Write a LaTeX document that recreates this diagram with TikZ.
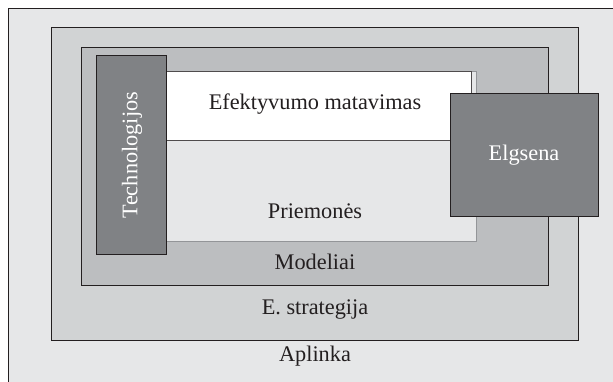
\documentclass[tikz,border=0pt]{standalone}
\usepackage{fontspec}
\setmainfont{Liberation Serif}
\definecolor{lineK}{HTML}{231F20}
\definecolor{envG}{HTML}{E6E7E8}
\definecolor{strG}{HTML}{D1D3D4}
\definecolor{modG}{HTML}{BCBEC0}
\definecolor{darkG}{HTML}{808285}
\definecolor{edgeG}{HTML}{939598}
\tikzset{
  frame/.style={draw=lineK, line width=0.9pt},
  lbl/.style={font=\fontsize{22.3}{25}\selectfont, text=lineK, inner sep=0pt},
  wlbl/.style={font=\fontsize{22.3}{25}\selectfont, text=white, inner sep=0pt}
}
\begin{document}
\begin{tikzpicture}[x=1pt,y=-1pt]
\useasboundingbox (0,0) rectangle (613,381);
\clip (0,0) rectangle (613,381);
\fill[white] (0,0) rectangle (613,381);
% environment
\draw[frame, fill=envG] (8,8) rectangle (630,400);
% strategy
\draw[frame, fill=strG] (51,27) rectangle (578,340);
% models
\draw[frame, fill=modG] (81,47) rectangle (548,285);
% means
\draw[draw=edgeG, line width=0.8pt, fill=envG] (166,71) rectangle (476,241);
% efficiency
\draw[draw=lineK!80, line width=0.8pt, fill=white] (166,71) rectangle (471,140);
% technologies
\draw[frame, fill=darkG] (96,55) rectangle (166,254);
% behaviour
\draw[frame, fill=darkG] (450,93) rectangle (598,216);
\node[lbl] (efek) at (315,104) {Efektyvumo matavimas};
\node[lbl] (prie) at (315,211) {Priemonės};
\node[lbl] (mod) at (315,262) {Modeliai};
\node[lbl] (str) at (315,310) {E. strategija};
\node[lbl] (apl) at (315,356) {Aplinka};
\node[wlbl] (elg) at (524,155) {Elgsena};
\node[wlbl, rotate=90] (tech) at (132,155) {Technologijos};
\end{tikzpicture}
\end{document}
